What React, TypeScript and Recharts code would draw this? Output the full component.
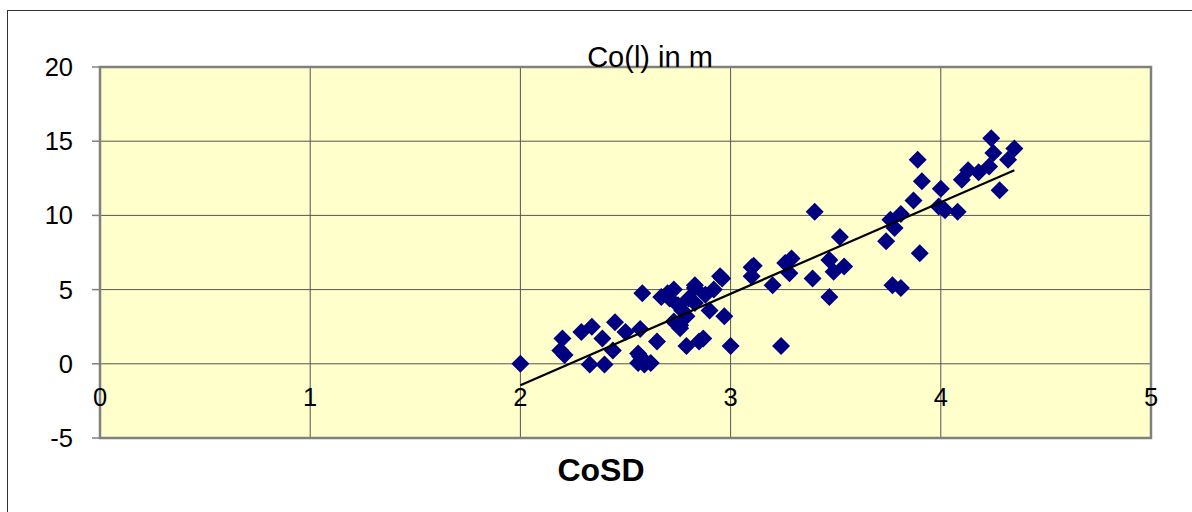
import {
  ComposedChart,
  Scatter,
  XAxis,
  YAxis,
  CartesianGrid,
  ReferenceArea,
} from "recharts";

// CoSD values (x) and Co(l) in m values (y)
const cosd = [
  2.0, 2.2, 2.19, 2.21, 2.29, 2.34, 2.33, 2.4, 2.39, 2.44, 2.45, 2.5, 2.57, 2.58,
  2.56, 2.59, 2.62, 2.57, 2.65, 2.71, 2.73, 2.76, 2.75, 2.77, 2.79, 2.83, 2.85,
  2.87, 2.83, 2.9, 2.92, 2.96, 2.97, 3.0, 3.11, 3.1, 3.2, 3.24, 2.7, 2.73, 2.83,
  2.88, 2.95, 2.79, 2.76, 2.56, 3.4, 3.52, 3.1, 3.29, 3.26, 3.28, 3.39, 3.47,
  3.47, 3.49, 3.54, 3.89, 3.91, 3.87, 4.0, 4.02, 4.08, 3.81, 3.76, 3.78, 3.74,
  3.9, 3.81, 3.77, 4.13, 4.1, 4.28, 4.24, 4.25, 4.23, 4.35, 4.32, 3.99, 2.67,
  2.8, 4.18,
];
const col = [
  0.0, 1.7, 0.9, 0.6, 2.15, 2.5, -0.05, -0.05, 1.7, 0.9, 2.8, 2.15, 2.35, 4.75,
  0.05, -0.05, 0.05, 0.5, 1.5, 4.4, 2.85, 2.4, 3.95, 3.6, 1.2, 5.1, 1.5, 1.7, 4.1,
  3.6, 5.0, 5.75, 3.2, 1.2, 6.6, 5.9, 5.3, 1.2, 4.75, 5.0, 5.3, 4.65, 5.9, 3.2,
  2.6, 0.7, 10.25, 8.55, 6.5, 7.1, 6.8, 6.1, 5.75, 4.5, 7.0, 6.2, 6.55, 13.75,
  12.3, 11.0, 11.8, 10.35, 10.25, 10.1, 9.7, 9.15, 8.25, 7.45, 5.1, 5.3, 13.05,
  12.4, 11.7, 15.2, 14.2, 13.3, 14.5, 13.75, 10.6, 4.5, 4.4, 12.9,
];

// linear trend line ends
const trendX = [2.0, 4.35];
const trendY = [-1.45, 13.05];

const xTicks = [0, 1, 2, 3, 4, 5];
const yTicks = [-5, 0, 5, 10, 15, 20];

const points = cosd.map((x, i) => ({ x, y: col[i] }));
const trend = trendX.map((x, i) => ({ x, y: trendY[i] }));

const FONT = "'Liberation Sans', Arial, sans-serif";

const Diamond = (props: any) => {
  const { cx, cy } = props;
  const r = 9;
  return (
    <polygon
      points={`${cx},${cy - r} ${cx + r},${cy} ${cx},${cy + r} ${cx - r},${cy}`}
      fill="#000080"
    />
  );
};

const NoDot = () => <g />;

// x labels sit just under the zero line, like Excel's crossing axis
const XTick = (props: any) => {
  const { x, y, payload } = props;
  return (
    <text
      x={x}
      y={y - 41}
      textAnchor="middle"
      dominantBaseline="central"
      fontSize={25.5}
      fontFamily={FONT}
      fill="#000"
    >
      {payload.value}
    </text>
  );
};

export default function App() {
  return (
    <div
      style={{
        position: "absolute",
        left: 0,
        top: 0,
        width: 1192,
        height: 512,
        background: "#fff",
        overflow: "hidden",
      }}
    >
      <div
        style={{
          position: "absolute",
          left: 7,
          top: 10,
          right: -10,
          bottom: -10,
          borderLeft: "1.5px solid #333",
          borderTop: "1.5px solid #333",
        }}
      />
      <ComposedChart
        width={1192}
        height={512}
        margin={{ top: 67, right: 41, left: 0, bottom: 44 }}
        style={{ position: "absolute", left: 0, top: 0 }}
      >
        <CartesianGrid stroke="#555" strokeWidth={1} fill="#FFFFCC" />
        <XAxis
          type="number"
          dataKey="x"
          domain={[0, 5]}
          ticks={xTicks}
          height={30}
          axisLine={false}
          tickLine={false}
          tickSize={0}
          tickMargin={0}
          tick={<XTick />}
          interval={0}
        />
        <YAxis
          type="number"
          dataKey="y"
          domain={[-5, 20]}
          ticks={yTicks}
          width={100}
          axisLine={false}
          tickLine={{ stroke: "#808080", strokeWidth: 1.5 }}
          tickSize={8}
          tickMargin={19}
          interval={0}
          tick={{ fontSize: 25.5, fontFamily: FONT, fill: "#000" }}
        />
        <ReferenceArea
          x1={0}
          x2={5}
          y1={-5}
          y2={20}
          fill="none"
          stroke="#808080"
          strokeWidth={2.5}
        />
        <Scatter
          data={points}
          shape={<Diamond />}
          isAnimationActive={false}
        />
        <Scatter
          data={trend}
          line={{ stroke: "#000", strokeWidth: 2.2 }}
          shape={<NoDot />}
          isAnimationActive={false}
        />
      </ComposedChart>
      <div
        style={{
          position: "absolute",
          left: 650,
          top: 57,
          transform: "translate(-50%, -50%)",
          fontFamily: FONT,
          fontSize: 29,
          color: "#000",
          whiteSpace: "nowrap",
        }}
      >
        Co(l) in m
      </div>
      <div
        style={{
          position: "absolute",
          left: 601,
          top: 470,
          transform: "translate(-50%, -50%)",
          fontFamily: FONT,
          fontSize: 32,
          fontWeight: "bold",
          color: "#000",
          whiteSpace: "nowrap",
        }}
      >
        CoSD
      </div>
    </div>
  );
}
